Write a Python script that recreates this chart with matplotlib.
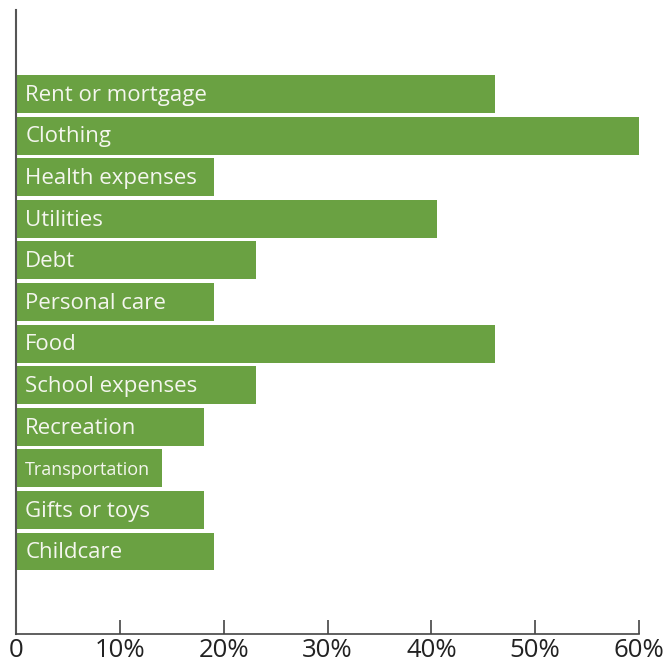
import matplotlib
matplotlib.use("Agg")
import matplotlib.pyplot as plt

categories = ["Rent or mortgage", "Clothing", "Health expenses", "Utilities", "Debt",
              "Personal care", "Food", "School expenses", "Recreation", "Transportation",
              "Gifts or toys", "Childcare"]
values = [46.1, 60, 19.1, 40.5, 23.1, 19.1, 46.1, 23.1, 18.1, 14.1, 18.1, 19.1]
tick_values = [0, 10, 20, 30, 40, 50, 60]
tick_labels = ["0", "10%", "20%", "30%", "40%", "50%", "60%"]

bar_color = "#6aa142"
axis_color = "#444444"

fig = plt.figure(figsize=(6.69, 6.68), dpi=100)
ax = fig.add_axes([16 / 669, (668 - 633.5) / 668, 623 / 669, 623.5 / 668])

ypos = list(range(len(categories)))
ax.barh(ypos, values, height=0.91, color=bar_color, linewidth=0)

for y, name in zip(ypos, categories):
    size = 13 if name == "Transportation" else 16
    ax.text(0.9, y + 0.03, name, color="#f4f6ee", fontsize=size, va="center", ha="left",
            family="Open Sans")

ax.set_xlim(0, 60)
ax.set_ylim(12.97, -2.02)
ax.set_yticks([])
ax.set_xticks(tick_values)
ax.set_xticklabels(tick_labels, family="Open Sans", fontsize=18.5)
ax.tick_params(axis="x", direction="in", length=10, width=1.2, color=axis_color,
               pad=3, labelcolor="#222222")

for side in ["top", "right"]:
    ax.spines[side].set_visible(False)
ax.spines["left"].set_color("#555555")
ax.spines["left"].set_linewidth(1.5)
ax.spines["bottom"].set_color(axis_color)
ax.spines["bottom"].set_linewidth(1.2)

plt.savefig("out.png", dpi=100)
